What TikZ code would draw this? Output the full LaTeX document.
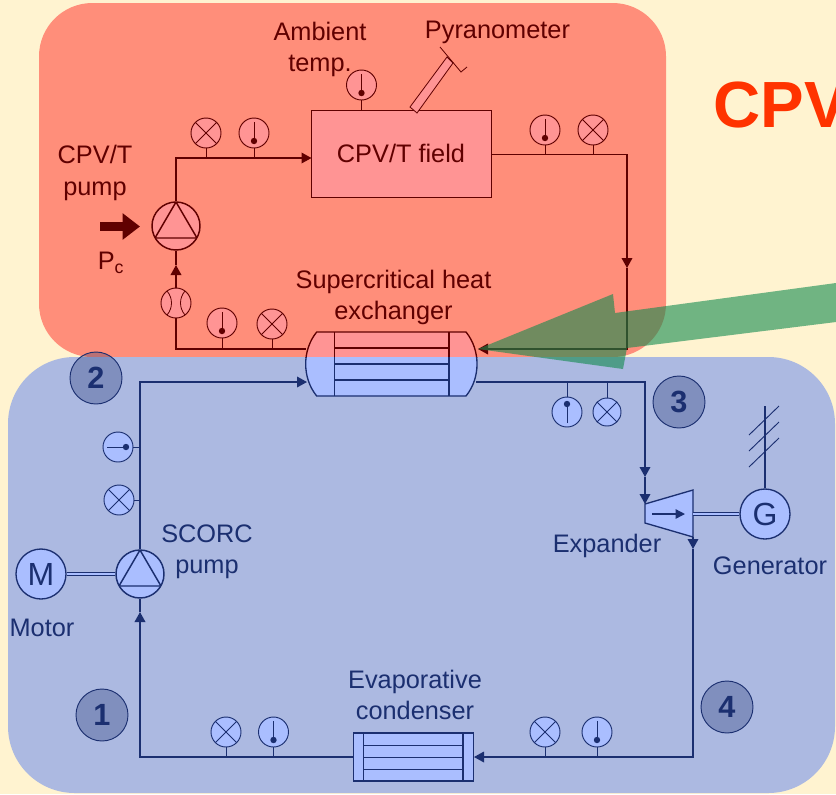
\documentclass[tikz,border=0pt]{standalone}
\usepackage{fontspec}
\setmainfont{Liberation Sans}
\usetikzlibrary{arrows.meta}
\definecolor{paper}{RGB}{255,243,208}
\definecolor{hotbox}{RGB}{255,142,122}
\definecolor{coldbox}{RGB}{172,185,225}
\definecolor{hotline}{RGB}{96,0,0}
\definecolor{coldline}{RGB}{27,47,112}
\definecolor{hotfill}{RGB}{255,148,148}
\definecolor{coldfill}{RGB}{170,190,255}
\definecolor{title}{RGB}{255,51,0}
\definecolor{solar}{RGB}{17,138,78}

\tikzset{
  lbl/.style={font=\fontsize{19}{23.5}\selectfont, align=center, inner sep=0pt, text=lnc},
  pipe/.style={draw=lnc, line width=1pt},
  pipetip/.style={pipe, -{Triangle[length=7.5pt,width=8pt]}},
  stem/.style={draw=lnc, line width=0.6pt},
  shaft/.style={draw=lnc, line width=0.7pt, double=fc, double distance=1.8pt},
  dial/.style={circle, draw=lnc, fill=fc, line width=0.7pt, minimum size=22.5pt, inner sep=0pt},
  % #1,#2: direction from the centre to the dot
  tgauge/.style 2 args={dial, path picture={
      \draw[lnc, line width=0.6pt, shift={(path picture bounding box.center)}]
        ({-11*(#1)},{-11*(#2)}) -- ({8*(#1)},{8*(#2)});
      \fill[lnc, shift={(path picture bounding box.center)}] ({8*(#1)},{8*(#2)}) circle (3.2);
    }},
  xgauge/.style={dial, path picture={
      \draw[lnc, line width=0.6pt, shift={(path picture bounding box.center)}]
        (-12,-12) -- (12,12) (-12,12) -- (12,-12);
    }},
  fgauge/.style={dial, path picture={
      \draw[lnc, line width=0.6pt, shift={(path picture bounding box.center)}]
        (-9,-12) .. controls (-3,-5) and (-3,5) .. (-9,12)
        (9,-12) .. controls (3,-5) and (3,5) .. (9,12);
    }},
  pumpc/.style={circle, draw=lnc, fill=fc, line width=1.1pt, minimum size=36pt, inner sep=0pt,
    path picture={
      \draw[lnc, line width=1.1pt, shift={(path picture bounding box.center)}]
        (0,-24) -- (21,12) -- (-21,12) -- cycle;
    }},
  machine/.style={circle, draw=lnc, fill=fc, line width=1pt, minimum size=37.5pt, inner sep=0pt,
    text=lnc, font=\fontsize{24}{24}\selectfont},
  statept/.style={circle, draw=lnc, fill=coldline, fill opacity=0.3, text opacity=1, line width=0.7pt,
    minimum size=39pt, inner sep=0pt, text=coldline, font=\fontsize{23}{23}\selectfont\bfseries},
}

% shell of the heat exchanger, used once for each loop
\newcommand{\hxbody}{
  \draw[line width=1pt, draw=lnc, fill=fc] (316.7,332) -- (466,332)
    .. controls (480.7,350) and (480.7,378) .. (466,396) -- (316.7,396)
    .. controls (302,378) and (302,350) .. (316.7,332) -- cycle;
  \draw[line width=1pt, draw=lnc] (334.3,332) -- (334.3,396) (449,332) -- (449,396);
  \draw[line width=1pt, draw=lnc] (334.3,348) -- (449,348) (334.3,364) -- (449,364)
    (334.3,380) -- (449,380);
}

\begin{document}
\begin{tikzpicture}[x=0.75pt,y=-0.75pt]

\clip (0,0) rectangle (836,794);
\fill[paper] (0,0) rectangle (836,794);

%---------------------------------------
% Backgrounds
%---------------------------------------
\fill[hotbox, rounded corners=40pt] (39,3) rectangle (666,357);
\fill[coldbox, rounded corners=50pt] (8,357) rectangle (835,793);

\node[font=\fontsize{49}{49}\selectfont\bfseries, text=title, anchor=west, inner sep=0pt] (bigtitle) at (713,105) {CPV};

%====================================================
% CPV/T LOOP
%====================================================
\begin{scope}
  \colorlet{lnc}{hotline}
  \colorlet{fc}{hotfill}

  \begin{scope}
    \clip (0,0) rectangle (836,357);
    \hxbody
  \end{scope}

  \node[draw=lnc, fill=fc, line width=0.8pt, minimum width=135pt, minimum height=65.5pt, inner sep=0pt] (field) at (401.5,154.2) {};
  \node[lbl] (fieldtxt) at (401,153) {CPV/T field};

  % Named points on the pipes
  \coordinate (fieldin) at (311.5,158);
  \coordinate (fieldout) at (491.5,154.5);
  \coordinate (hotdrop) at (627,268);
  \coordinate (hxhotin) at (478,349);
  \coordinate (hxhotout) at (305.7,349);
  \coordinate (hotcorner) at (176,349);
  \coordinate (hotrise) at (176,265);

  \node[pumpc] (hotpump) at (176,226) {};
  \node[fgauge] (hotflow) at (176,303) {};

  % Pipes
  \draw[pipetip] (hotpump.north) |- (fieldin);
  \draw[pipetip] (fieldout) -| (hotdrop);
  \draw[pipetip] (hotdrop) |- (hxhotin);
  \draw[pipe] (hxhotout) -- (hotcorner) -- (hotflow.south);
  \draw[pipetip] (hotflow.north) -- (hotrise);
  \draw[pipe] (hotrise) -- (hotpump.south);

  % Gauges
  \node[xgauge] (hotx1) at (206,133) {};
  \node[tgauge={0}{1}] (hott1) at (254,133) {};
  \node[tgauge={0}{1}] (hott2) at (361.5,85) {};
  \node[tgauge={0}{1}] (hott3) at (545,130) {};
  \node[xgauge] (hotx2) at (593,130) {};
  \node[tgauge={0}{1}] (hott4) at (222,323) {};
  \node[xgauge] (hotx3) at (272,324) {};
  \foreach \g in {hotx1,hott1} \draw[stem] (\g) -- (\g |- fieldin);
  \foreach \g in {hott3,hotx2} \draw[stem] (\g) -- (\g |- fieldout);
  \foreach \g in {hott4,hotx3} \draw[stem] (\g) -- (\g |- hotcorner);
  \draw[stem] (hott2) -- (hott2 |- field.north);

  % Pyranometer
  \draw[lnc, fill=fc, line width=0.6pt] (410,107) -- (417,113) -- (453,63) -- (447,57) -- cycle;
  \draw[lnc, line width=0.6pt] (440,47) -- (461,72) -- (467,67);

  % Power input
  \coordinate (powerstart) at (100,226.5);
  \coordinate (powerend) at (140,226.5);
  \draw[lnc, line width=6.8pt, -{Triangle[length=13pt,width=19pt]}] (powerstart) -- (powerend);

  % Labels
  \node[lbl] (ambienttxt) at (320,49.5) {Ambient\\temp.};
  \node[lbl] (pyrotxt) at (497.5,32) {Pyranometer};
  \node[lbl] (hotpumptxt) at (95,173) {CPV/T\\pump};
  \node[lbl] (powertxt) at (111,263) {P\textsubscript{c}};
  \node[lbl] (hxtxt) at (393.5,297.5) {Supercritical heat\\exchanger};
\end{scope}

%====================================================
% SCORC LOOP
%====================================================
\begin{scope}
  \colorlet{lnc}{coldline}
  \colorlet{fc}{coldfill}

  \begin{scope}
    \clip (0,357) rectangle (836,794);
    \hxbody
  \end{scope}

  % Machines
  \node[pumpc] (coldpump) at (140,574) {};
  \node[machine] (motor) at (41,574) {M};
  \node[machine] (generator) at (765,514) {G};
  \draw[shaft] (motor.east) -- (coldpump.west);

  % Named points on the pipes
  \coordinate (hxcoldin) at (307,382);
  \coordinate (hxcoldout) at (476,382);
  \coordinate (expdrop) at (645,477);
  \coordinate (expin) at (645,504);
  \coordinate (expout) at (693,537);
  \coordinate (expdown) at (693,549);
  \coordinate (expshaft) at (693,514);
  \coordinate (condin) at (474,757);
  \coordinate (condout) at (353.5,757);
  \coordinate (pumpfoot) at (140,757);
  \coordinate (pumprise) at (140,612);

  % Expander
  \draw[lnc, fill=fc, line width=1pt] (645,504) -- (693,490) -- (693,537) -- (645,523) -- cycle;
  \coordinate (expflowa) at (652,514);
  \coordinate (expflowb) at (685,514);
  \draw[pipe, -{Triangle[length=7pt,width=7pt]}] (expflowa) -- (expflowb);
  \draw[shaft] (expshaft) -- (generator.west);

  % Condenser
  \draw[lnc, fill=fc, line width=0.8pt] (353.5,733) rectangle (473.5,781);
  \draw[lnc, line width=0.8pt] (363.5,733) -- (363.5,781) (463,733) -- (463,781);
  \draw[lnc, line width=0.6pt] (363.5,745) -- (463,745) (363.5,757) -- (463,757) (363.5,769) -- (463,769);

  % Pipes
  \draw[pipetip] (coldpump.north) |- (hxcoldin);
  \draw[pipetip] (hxcoldout) -| (expdrop);
  \draw[pipetip] (expdrop) -- (expin);
  \draw[pipetip] (expout) -- (expdown);
  \draw[pipetip] (expdown) |- (condin);
  \draw[pipetip] (condout) -- (pumpfoot) -- (pumprise);
  \draw[pipe] (pumprise) -- (coldpump.south);

  % Gauges
  \node[tgauge={1}{0}] (coldt1) at (118,447) {};
  \node[xgauge] (coldx1) at (119,500) {};
  \node[tgauge={0}{-1}] (coldt2) at (567,412) {};
  \node[xgauge, minimum size=21pt] (coldx2) at (607,412) {};
  \node[xgauge] (coldx3) at (226,732) {};
  \node[tgauge={0}{1}] (coldt3) at (273.5,732) {};
  \node[xgauge] (coldx4) at (545,732) {};
  \node[tgauge={0}{1}] (coldt4) at (597,732) {};
  \foreach \g in {coldt1,coldx1} \draw[stem] (\g) -- (\g -| pumpfoot);
  \foreach \g in {coldt2,coldx2} \draw[stem] (\g) -- (\g |- hxcoldout);
  \foreach \g in {coldx3,coldt3,coldx4,coldt4} \draw[stem] (\g) -- (\g |- pumpfoot);

  % Grid connection
  \coordinate (gridtop) at (765,406);
  \draw[pipe] (generator.north) -- (gridtop);
  \foreach \s in {0,16,32} \draw[lnc, line width=0.7pt] (749,435+\s) -- (779,406+\s);

  % State points
  \node[statept] (state1) at (102,715) {1};
  \node[statept] (state2) at (96,378) {2};
  \node[statept] (state3) at (679,402) {3};
  \node[statept] (state4) at (727,707) {4};

  % Labels
  \node[lbl] (coldpumptxt) at (207,552) {SCORC\\pump};
  \node[lbl] (motortxt) at (42,628) {Motor};
  \node[lbl] (exptxt) at (607,546) {Expander};
  \node[lbl] (gentxt) at (770,566) {Generator};
  \node[lbl] (condtxt) at (415,695) {Evaporative\\condenser};
\end{scope}

%====================================================
% Solar arrow, over everything
%====================================================
\fill[solar, fill opacity=0.6] (478,349) -- (613,294) -- (615,313) -- (836,283)
  -- (836,322) -- (627,348) -- (623,369) -- cycle;

\end{tikzpicture}
\end{document}
